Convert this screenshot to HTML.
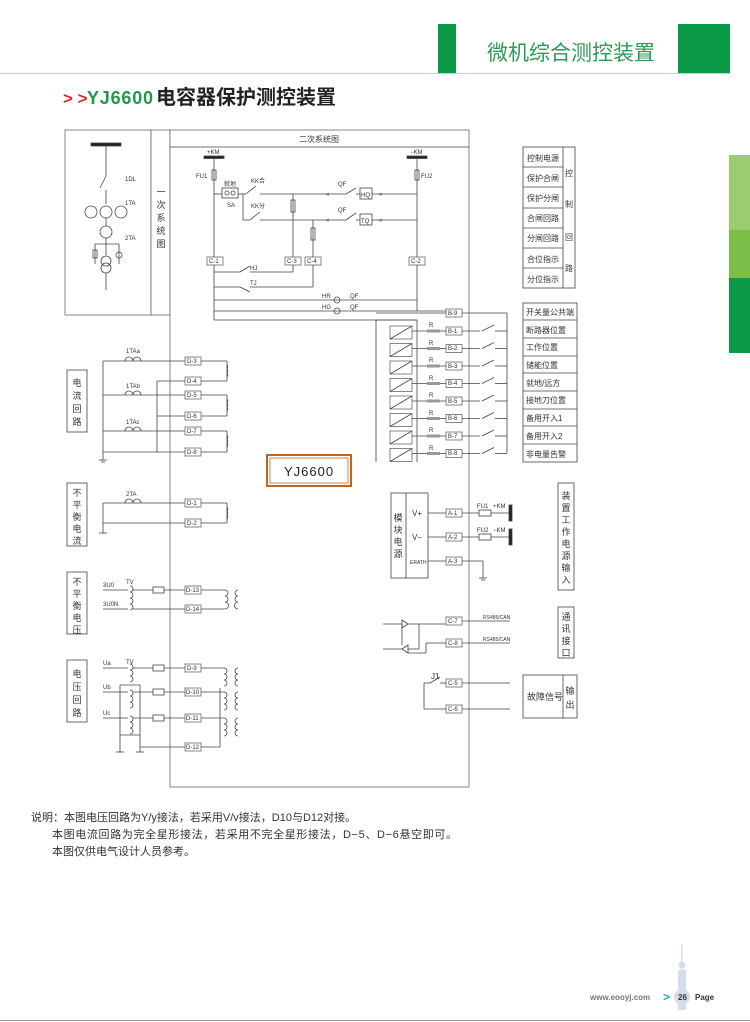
<!DOCTYPE html>
<html><head><meta charset="utf-8"><style>
html,body{margin:0;padding:0;background:#fff}
svg{display:block}
text{font-family:"Liberation Sans","Noto Sans CJK SC",sans-serif;fill:#333}
.t{font-size:6px}
.s{font-size:8px}
.m{font-size:9px}
.l{stroke:#444;stroke-width:0.8;fill:none}
.b{fill:#fff;stroke:#555;stroke-width:0.7}
</style></head><body>
<svg width="750" height="1022" viewBox="0 0 750 1022" xmlns="http://www.w3.org/2000/svg">
<!-- header -->
<line x1="0" y1="73.5" x2="730" y2="73.5" stroke="#b8d8c4" stroke-width="1"/>
<rect x="438" y="24" width="18" height="49" fill="#0b9a48"/>
<rect x="678" y="24" width="52" height="49" fill="#0b9a48"/>
<text x="487" y="60" style="font-size:21px;fill:#2e9a55">微机综合测控装置</text>
<rect x="729" y="155" width="21" height="75" fill="#9dcc6e"/>
<rect x="729" y="230" width="21" height="48" fill="#7cbf48"/>
<rect x="729" y="278" width="21" height="75" fill="#0b9a48"/>
<text x="63" y="104" style="font-size:17px;font-weight:bold;fill:#d32f2f">&gt; &gt;</text>
<text x="87" y="104" style="font-size:18px;font-weight:bold;fill:#1e9a4e;letter-spacing:0.8px">YJ6600</text>
<text x="156" y="104" style="font-size:20px;font-weight:bold;fill:#222">电容器保护测控装置</text>

<!-- frames -->
<rect x="65" y="130" width="86" height="185" class="b"/>
<rect x="151" y="130" width="19" height="185" class="b"/>
<text x="161" y="195" class="m" text-anchor="middle">一</text>
<text x="161" y="208" class="m" text-anchor="middle">次</text>
<text x="161" y="221" class="m" text-anchor="middle">系</text>
<text x="161" y="234" class="m" text-anchor="middle">统</text>
<text x="161" y="247" class="m" text-anchor="middle">图</text>
<rect x="170" y="130" width="299" height="657" class="b"/>
<line x1="170" y1="147" x2="469" y2="147" class="l"/>
<text x="319" y="142" class="s" text-anchor="middle">二次系统图</text>

<!-- primary diagram -->
<g class="l">
<rect x="91" y="143" width="30" height="3" fill="#222"/>
<line x1="106" y1="146" x2="106" y2="176"/>
<line x1="106" y1="176" x2="100" y2="188"/>
<line x1="106" y1="190" x2="106" y2="204"/>
<circle cx="106" cy="212" r="6"/><circle cx="91" cy="212" r="6"/><circle cx="121" cy="212" r="6"/>
<line x1="106" y1="218" x2="106" y2="226"/>
<circle cx="106" cy="232" r="6"/>
<line x1="106" y1="238" x2="106" y2="244"/>
<line x1="95" y1="244" x2="119" y2="244"/>
<line x1="95" y1="244" x2="95" y2="264"/><line x1="119" y1="244" x2="119" y2="264"/>
<rect x="93" y="250" width="4" height="8"/><circle cx="119" cy="255" r="3"/>
<line x1="106" y1="244" x2="106" y2="255"/>
<circle cx="106" cy="261" r="5"/><circle cx="106" cy="268" r="5"/>
<line x1="106" y1="273" x2="106" y2="290"/>
</g>
<text x="125" y="181" class="t">1DL</text>
<text x="125" y="205" class="t">1TA</text>
<text x="125" y="240" class="t">2TA</text>

<!-- control circuit -->
<g class="l">
<rect x="204" y="156" width="20" height="2.5" fill="#222"/>
<rect x="407" y="156" width="20" height="2.5" fill="#222"/>
<line x1="214" y1="158" x2="214" y2="320"/>
<rect x="212" y="170" width="4" height="10"/>
<line x1="417" y1="158" x2="417" y2="311"/>
<rect x="415" y="170" width="4" height="10"/>
<line x1="214" y1="194" x2="222" y2="194"/>
<rect x="222" y="188" width="16" height="10"/>
<circle cx="227" cy="193" r="2"/><circle cx="233" cy="193" r="2"/>
<line x1="238" y1="194" x2="246" y2="194"/>
<line x1="246" y1="194" x2="256" y2="186"/>
<line x1="260" y1="194" x2="340" y2="194"/>
<line x1="243" y1="194" x2="243" y2="220"/>
<line x1="243" y1="220" x2="250" y2="220"/>
<line x1="250" y1="220" x2="260" y2="212"/>
<line x1="260" y1="220" x2="340" y2="220"/>
<line x1="340" y1="194" x2="346" y2="194"/><line x1="346" y1="194" x2="356" y2="188"/><line x1="356" y1="194" x2="360" y2="194"/>
<rect x="360" y="188" width="12" height="11"/>
<line x1="372" y1="194" x2="417" y2="194"/>
<line x1="340" y1="220" x2="346" y2="220"/><line x1="346" y1="220" x2="356" y2="213"/><line x1="356" y1="220" x2="360" y2="220"/>
<rect x="360" y="214" width="12" height="11"/>
<line x1="372" y1="220" x2="417" y2="220"/>
<line x1="293" y1="194" x2="293" y2="257"/>
<rect x="291" y="200" width="4" height="12"/>
<line x1="313" y1="220" x2="313" y2="257"/>
<rect x="311" y="228" width="4" height="12"/>
<line x1="214" y1="272" x2="240" y2="272"/><line x1="240" y1="272" x2="250" y2="266"/><line x1="250" y1="272" x2="293" y2="272"/><line x1="293" y1="272" x2="293" y2="265"/>
<line x1="214" y1="287" x2="240" y2="287"/><line x1="240" y1="287" x2="250" y2="292"/><line x1="250" y1="287" x2="313" y2="287"/><line x1="313" y1="287" x2="313" y2="265"/>
<line x1="214" y1="300" x2="417" y2="300"/>
<line x1="214" y1="311" x2="446" y2="311"/>
<circle cx="337" cy="300" r="3"/><circle cx="337" cy="311" r="3"/>
<line x1="214" y1="320" x2="417" y2="320"/><line x1="417" y1="320" x2="417" y2="326"/>
</g>
<text x="196" y="178" class="t">FU1</text><text x="421" y="178" class="t">FU2</text>
<text x="207" y="154" class="t">+KM</text><text x="410" y="154" class="t">−KM</text>
<text x="224" y="186" class="t">就地</text><text x="227" y="207" class="t">SA</text>
<text x="251" y="183" class="t">KK合</text><text x="251" y="208" class="t">KK分</text>
<text x="338" y="186" class="t">QF</text><text x="338" y="212" class="t">QF</text>
<text x="361" y="197" class="t">HQ</text><text x="361" y="223" class="t">TQ</text>
<text x="326" y="196" class="t">«</text><text x="379" y="196" class="t">»</text>
<text x="326" y="222" class="t">«</text><text x="379" y="222" class="t">»</text>
<text x="250" y="270" class="t">HJ</text><text x="250" y="285" class="t">TJ</text>
<text x="322" y="298" class="t">HR</text><text x="322" y="309" class="t">HG</text>
<text x="350" y="298" class="t">QF</text><text x="350" y="309" class="t">QF</text>
<g class="t">
<rect x="207" y="257" width="16" height="8" class="b"/><text x="209" y="263">C-1</text>
<rect x="285" y="257" width="16" height="8" class="b"/><text x="287" y="263">C-3</text>
<rect x="305" y="257" width="16" height="8" class="b"/><text x="307" y="263">C-4</text>
<rect x="409" y="257" width="16" height="8" class="b"/><text x="411" y="263">C-2</text>
</g>

<!-- control table -->
<g class="l">
<rect x="523" y="147" width="52" height="141"/>
<line x1="563" y1="147" x2="563" y2="288"/>
<line x1="523" y1="167" x2="563" y2="167"/><line x1="523" y1="187" x2="563" y2="187"/>
<line x1="523" y1="208" x2="563" y2="208"/><line x1="523" y1="228" x2="563" y2="228"/>
<line x1="523" y1="248" x2="563" y2="248"/><line x1="523" y1="268" x2="563" y2="268"/>
</g>
<g class="s">
<text x="527" y="161">控制电源</text><text x="527" y="181">保护合闸</text><text x="527" y="201">保护分闸</text>
<text x="527" y="221">合闸回路</text><text x="527" y="241">分闸回路</text><text x="527" y="262">合位指示</text><text x="527" y="282">分位指示</text>
<text x="565" y="176">控</text><text x="565" y="207">制</text><text x="565" y="240">回</text><text x="565" y="271">路</text>
</g>

<!-- binary inputs -->
<g class="l">
<line x1="376" y1="313" x2="446" y2="313"/>
<line x1="462" y1="313" x2="507" y2="313"/>
<line x1="507" y1="313" x2="507" y2="453"/>
<line x1="376" y1="320" x2="376" y2="462"/><line x1="376" y1="320" x2="417" y2="320"/>
<line x1="417" y1="326" x2="417" y2="462"/>
</g>
<g id="bi">
<rect x="390" y="326" width="22" height="13" class="b"/>
<line x1="390" y1="339" x2="412" y2="326" class="l"/>
<line x1="412" y1="331" x2="446" y2="331" class="l"/>
<rect x="427" y="329.5" width="13" height="3" fill="#999"/>
<line x1="462" y1="331" x2="480" y2="331" class="l"/>
<line x1="482" y1="331" x2="494" y2="325" class="l"/>
<line x1="495" y1="331" x2="507" y2="331" class="l"/>
<rect x="446" y="327" width="16" height="8" class="b"/>
</g>
<use href="#bi" y="17.5"/><use href="#bi" y="35"/><use href="#bi" y="52.5"/><use href="#bi" y="70"/>
<use href="#bi" y="87.5"/><use href="#bi" y="105"/><use href="#bi" y="122.5"/>
<rect x="446" y="309" width="16" height="8" class="b"/>
<g class="t">
<text x="448" y="315">B-9</text><text x="448" y="333">B-1</text><text x="448" y="350">B-2</text><text x="448" y="368">B-3</text>
<text x="448" y="385">B-4</text><text x="448" y="403">B-5</text><text x="448" y="420">B-6</text><text x="448" y="438">B-7</text><text x="448" y="455">B-8</text>
<text x="429" y="327">R</text><text x="429" y="345">R</text><text x="429" y="362">R</text><text x="429" y="380">R</text>
<text x="429" y="397">R</text><text x="429" y="415">R</text><text x="429" y="432">R</text><text x="429" y="450">R</text>
</g>
<g class="l">
<rect x="523" y="303" width="54" height="159"/>
<line x1="523" y1="320" x2="577" y2="320"/><line x1="523" y1="338" x2="577" y2="338"/><line x1="523" y1="356" x2="577" y2="356"/>
<line x1="523" y1="373" x2="577" y2="373"/><line x1="523" y1="391" x2="577" y2="391"/><line x1="523" y1="409" x2="577" y2="409"/>
<line x1="523" y1="426" x2="577" y2="426"/><line x1="523" y1="444" x2="577" y2="444"/>
</g>
<g class="s">
<text x="526" y="315">开关量公共端</text><text x="526" y="333">断路器位置</text><text x="526" y="350">工作位置</text>
<text x="526" y="368">储能位置</text><text x="526" y="386">就地/远方</text><text x="526" y="403">接地刀位置</text>
<text x="526" y="421">备用开入1</text><text x="526" y="439">备用开入2</text><text x="526" y="457">非电量告警</text>
</g>

<!-- YJ6600 -->
<rect x="267" y="455" width="84" height="31" fill="#fff" stroke="#c0661c" stroke-width="2"/>
<rect x="270" y="458" width="78" height="25" fill="none" stroke="#c0661c" stroke-width="0.8"/>
<text x="309" y="476" text-anchor="middle" style="font-size:13px;letter-spacing:1px;fill:#222">YJ6600</text>

<!-- left labels -->
<g class="l">
<rect x="67" y="370" width="20" height="62"/><rect x="67" y="483" width="20" height="63"/>
<rect x="67" y="572" width="20" height="62"/><rect x="67" y="660" width="20" height="62"/>
</g>
<g class="m" text-anchor="middle">
<text x="77" y="386">电</text><text x="77" y="399">流</text><text x="77" y="412">回</text><text x="77" y="425">路</text>
<text x="77" y="496">不</text><text x="77" y="508">平</text><text x="77" y="520">衡</text><text x="77" y="532">电</text><text x="77" y="544">流</text>
<text x="77" y="585">不</text><text x="77" y="597">平</text><text x="77" y="609">衡</text><text x="77" y="621">电</text><text x="77" y="633">压</text>
<text x="77" y="677">电</text><text x="77" y="690">压</text><text x="77" y="703">回</text><text x="77" y="716">路</text>
</g>

<!-- current circuits -->
<g class="l">
<line x1="103" y1="361" x2="185" y2="361"/><line x1="103" y1="395" x2="185" y2="395"/><line x1="103" y1="431" x2="185" y2="431"/>
<line x1="103" y1="452" x2="185" y2="452"/><line x1="103" y1="361" x2="103" y2="460"/>
<line x1="157" y1="381" x2="185" y2="381"/><line x1="157" y1="416" x2="185" y2="416"/><line x1="157" y1="381" x2="157" y2="452"/>
<path d="M125,361 a4,4 0 0,1 8,0 a4,4 0 0,1 8,0"/><path d="M125,395 a4,4 0 0,1 8,0 a4,4 0 0,1 8,0"/><path d="M125,431 a4,4 0 0,1 8,0 a4,4 0 0,1 8,0"/>
<line x1="99" y1="460" x2="107" y2="460"/><line x1="101" y1="462" x2="105" y2="462"/>
<line x1="201" y1="361" x2="227" y2="361"/><line x1="227" y1="361" x2="227" y2="381"/><line x1="201" y1="381" x2="227" y2="381"/>
<line x1="201" y1="395" x2="227" y2="395"/><line x1="227" y1="395" x2="227" y2="416"/><line x1="201" y1="416" x2="227" y2="416"/>
<line x1="201" y1="431" x2="227" y2="431"/><line x1="227" y1="431" x2="227" y2="452"/><line x1="201" y1="452" x2="227" y2="452"/>
<path d="M227,365 a3,3 0 0,1 0,4 a3,3 0 0,1 0,4 a3,3 0 0,1 0,4"/>
<path d="M227,399 a3,3 0 0,1 0,4 a3,3 0 0,1 0,4 a3,3 0 0,1 0,4"/>
<path d="M227,435 a3,3 0 0,1 0,4 a3,3 0 0,1 0,4 a3,3 0 0,1 0,4"/>
<line x1="103" y1="503" x2="185" y2="503"/><line x1="103" y1="523" x2="185" y2="523"/><line x1="103" y1="503" x2="103" y2="533"/>
<path d="M125,503 a4,4 0 0,1 8,0 a4,4 0 0,1 8,0"/>
<line x1="99" y1="533" x2="107" y2="533"/>
<line x1="201" y1="503" x2="227" y2="503"/><line x1="227" y1="503" x2="227" y2="523"/><line x1="201" y1="523" x2="227" y2="523"/>
<path d="M227,507 a3,3 0 0,1 0,4 a3,3 0 0,1 0,4 a3,3 0 0,1 0,4"/>
<line x1="103" y1="590" x2="128" y2="590"/><line x1="103" y1="609" x2="128" y2="609"/>
<path d="M130,586 a3,3 0 0,1 0,6 a3,3 0 0,1 0,6 a3,3 0 0,1 0,6 a3,3 0 0,1 0,6"/>
<line x1="133" y1="590" x2="185" y2="590"/><line x1="133" y1="609" x2="185" y2="609"/>
<rect x="153" y="587" width="11" height="6" fill="#fff"/>
<line x1="201" y1="590" x2="225" y2="590"/><line x1="201" y1="609" x2="225" y2="609"/>
<path d="M225,590 a3,3 0 0,1 0,6 a3,3 0 0,1 0,6 a3,3 0 0,1 0,7"/>
<path d="M238,590 a3,3 0 0,0 0,6 a3,3 0 0,0 0,6 a3,3 0 0,0 0,7"/>
<line x1="103" y1="668" x2="128" y2="668"/><line x1="103" y1="692" x2="128" y2="692"/><line x1="103" y1="718" x2="128" y2="718"/>
<path d="M130,664 a3,3 0 0,1 0,6 a3,3 0 0,1 0,6 a3,3 0 0,1 0,6"/>
<path d="M130,690 a3,3 0 0,1 0,6 a3,3 0 0,1 0,6 a3,3 0 0,1 0,6"/>
<path d="M130,716 a3,3 0 0,1 0,6 a3,3 0 0,1 0,6 a3,3 0 0,1 0,6"/>
<line x1="120" y1="685" x2="120" y2="752"/><line x1="120" y1="685" x2="140" y2="685"/><line x1="140" y1="685" x2="140" y2="752"/>
<line x1="120" y1="735" x2="140" y2="735"/>
<line x1="133" y1="668" x2="185" y2="668"/><line x1="133" y1="692" x2="185" y2="692"/><line x1="133" y1="718" x2="185" y2="718"/>
<line x1="140" y1="747" x2="185" y2="747"/>
<rect x="153" y="665" width="11" height="6" fill="#fff"/><rect x="153" y="689" width="11" height="6" fill="#fff"/><rect x="153" y="715" width="11" height="6" fill="#fff"/>
<line x1="116" y1="752" x2="124" y2="752"/><line x1="136" y1="752" x2="144" y2="752"/>
<line x1="201" y1="668" x2="224" y2="668"/><line x1="201" y1="692" x2="224" y2="692"/><line x1="201" y1="718" x2="224" y2="718"/><line x1="201" y1="747" x2="220" y2="747"/>
<line x1="220" y1="688" x2="220" y2="747"/>
<path d="M224,668 a3,3 0 0,1 0,6 a3,3 0 0,1 0,6 a3,3 0 0,1 0,6"/>
<path d="M224,692 a3,3 0 0,1 0,6 a3,3 0 0,1 0,6 a3,3 0 0,1 0,6"/>
<path d="M224,718 a3,3 0 0,1 0,6 a3,3 0 0,1 0,6 a3,3 0 0,1 0,6"/>
<path d="M238,668 a3,3 0 0,0 0,6 a3,3 0 0,0 0,6 a3,3 0 0,0 0,6"/>
<path d="M238,692 a3,3 0 0,0 0,6 a3,3 0 0,0 0,6 a3,3 0 0,0 0,6"/>
<path d="M238,718 a3,3 0 0,0 0,6 a3,3 0 0,0 0,6 a3,3 0 0,0 0,6"/>
</g>
<g class="t">
<text x="126" y="353">1TAa</text><text x="126" y="388">1TAb</text><text x="126" y="424">1TAc</text><text x="126" y="496">2TA</text>
<text x="103" y="587">3U0</text><text x="103" y="606">3U0N</text><text x="126" y="584">TV</text><text x="126" y="664">TV</text>
<text x="103" y="665">Ua</text><text x="103" y="689">Ub</text><text x="103" y="715">Uc</text>
</g>
<g class="t">
<rect x="185" y="357" width="16" height="8" class="b"/><text x="187" y="363">D-3</text>
<rect x="185" y="377" width="16" height="8" class="b"/><text x="187" y="383">D-4</text>
<rect x="185" y="391" width="16" height="8" class="b"/><text x="187" y="397">D-5</text>
<rect x="185" y="412" width="16" height="8" class="b"/><text x="187" y="418">D-6</text>
<rect x="185" y="427" width="16" height="8" class="b"/><text x="187" y="433">D-7</text>
<rect x="185" y="448" width="16" height="8" class="b"/><text x="187" y="454">D-8</text>
<rect x="185" y="499" width="16" height="8" class="b"/><text x="187" y="505">D-1</text>
<rect x="185" y="519" width="16" height="8" class="b"/><text x="187" y="525">D-2</text>
<rect x="185" y="586" width="16" height="8" class="b"/><text x="186" y="592">D-13</text>
<rect x="185" y="605" width="16" height="8" class="b"/><text x="186" y="611">D-14</text>
<rect x="185" y="664" width="16" height="8" class="b"/><text x="187" y="670">D-9</text>
<rect x="185" y="688" width="16" height="8" class="b"/><text x="186" y="694">D-10</text>
<rect x="185" y="714" width="16" height="8" class="b"/><text x="186" y="720">D-11</text>
<rect x="185" y="743" width="16" height="8" class="b"/><text x="186" y="749">D-12</text>
</g>

<!-- module power -->
<g class="l">
<rect x="391" y="493" width="37" height="85"/><line x1="406" y1="493" x2="406" y2="578"/>
<line x1="428" y1="513" x2="446" y2="513"/><line x1="462" y1="513" x2="510" y2="513"/>
<line x1="428" y1="537" x2="446" y2="537"/><line x1="462" y1="537" x2="510" y2="537"/>
<line x1="428" y1="561" x2="446" y2="561"/><line x1="462" y1="561" x2="483" y2="561"/><line x1="483" y1="561" x2="483" y2="578"/>
<line x1="479" y1="578" x2="487" y2="578"/><line x1="481" y1="580" x2="485" y2="580"/>
<rect x="479" y="510" width="12" height="6" fill="#fff"/><rect x="479" y="534" width="12" height="6" fill="#fff"/>
<rect x="509" y="505" width="3" height="16" fill="#222"/><rect x="509" y="529" width="3" height="16" fill="#222"/>
<rect x="558" y="483" width="16" height="107"/><rect x="558" y="607" width="16" height="51"/>
<rect x="523" y="675" width="54" height="43"/><line x1="563" y1="675" x2="563" y2="718"/>
<line x1="383" y1="624" x2="402" y2="624"/><path d="M402,620 l6,4 l-6,4 z"/>
<line x1="408" y1="624" x2="446" y2="624"/><line x1="462" y1="621" x2="510" y2="621"/>
<line x1="419" y1="624" x2="419" y2="649"/><line x1="408" y1="649" x2="419" y2="649"/>
<line x1="383" y1="649" x2="402" y2="649"/><path d="M408,645 l-6,4 l6,4 z"/>
<line x1="402" y1="624" x2="402" y2="645"/>
<line x1="426" y1="643" x2="446" y2="643"/><line x1="426" y1="643" x2="426" y2="653"/><line x1="408" y1="653" x2="426" y2="653"/>
<line x1="462" y1="643" x2="510" y2="643"/>
<line x1="424" y1="683" x2="430" y2="683"/><line x1="430" y1="683" x2="440" y2="677"/><line x1="440" y1="683" x2="446" y2="683"/>
<line x1="424" y1="683" x2="424" y2="709"/><line x1="424" y1="709" x2="446" y2="709"/>
<line x1="462" y1="683" x2="510" y2="683"/><line x1="462" y1="709" x2="510" y2="709"/>
</g>
<g class="t">
<rect x="446" y="509" width="16" height="8" class="b"/><text x="448" y="515">A-1</text>
<rect x="446" y="533" width="16" height="8" class="b"/><text x="448" y="539">A-2</text>
<rect x="446" y="557" width="16" height="8" class="b"/><text x="448" y="563">A-3</text>
<rect x="446" y="617" width="16" height="8" class="b"/><text x="448" y="623">C-7</text>
<rect x="446" y="639" width="16" height="8" class="b"/><text x="448" y="645">C-8</text>
<rect x="446" y="679" width="16" height="8" class="b"/><text x="448" y="685">C-5</text>
<rect x="446" y="705" width="16" height="8" class="b"/><text x="448" y="711">C-6</text>
<text x="410" y="564" style="font-size:5px">ERATH</text>
<text x="477" y="508">FU1</text><text x="493" y="508">+KM</text><text x="477" y="532">FU2</text><text x="493" y="532">−KM</text>
<text x="483" y="619" style="font-size:5px">RS485/CAN</text><text x="483" y="641" style="font-size:5px">RS485/CAN</text>
</g>
<text x="412" y="516" class="s">V+</text><text x="412" y="540" class="s">V−</text>
<text x="431" y="679" class="s">J1</text>
<g class="m" text-anchor="middle">
<text x="398" y="521">模</text><text x="398" y="533">块</text><text x="398" y="545">电</text><text x="398" y="557">源</text>
<text x="566" y="499">装</text><text x="566" y="511">置</text><text x="566" y="523">工</text><text x="566" y="535">作</text>
<text x="566" y="547">电</text><text x="566" y="559">源</text><text x="566" y="571">输</text><text x="566" y="583">入</text>
<text x="566" y="620">通</text><text x="566" y="632">讯</text><text x="566" y="644">接</text><text x="566" y="656">口</text>
<text x="570" y="694">输</text><text x="570" y="708">出</text>
</g>
<text x="527" y="700" class="m">故障信号</text>

<!-- notes -->
<g style="font-size:11px">
<text x="31" y="821">说明：本图电压回路为Y/y接法，若采用V/v接法，D10与D12对接。</text>
<text x="52" y="838" textLength="405">本图电流回路为完全星形接法，若采用不完全星形接法，D−5、D−6悬空即可。</text>
<text x="52" y="855">本图仅供电气设计人员参考。</text>
</g>

<!-- footer -->
<g fill="#c9d6e6" opacity="0.8">
<rect x="681" y="945" width="1.5" height="30"/><circle cx="682" cy="965" r="3.5"/><rect x="678" y="970" width="8" height="40"/><circle cx="682" cy="997" r="8"/>
</g>
<text x="590" y="1000" style="font-size:8px;fill:#777;font-weight:bold">www.eooyj.com</text>
<text x="663" y="1001" style="font-size:12px;fill:#1aa3b5;font-weight:bold">&gt;</text>
<text x="678" y="1000" style="font-size:8px;fill:#333;font-weight:bold">26</text>
<text x="695" y="1000" style="font-size:8px;fill:#333;font-weight:bold">Page</text>
<line x1="0" y1="1020.5" x2="750" y2="1020.5" stroke="#999" stroke-width="1"/>
</svg>
</body></html>
